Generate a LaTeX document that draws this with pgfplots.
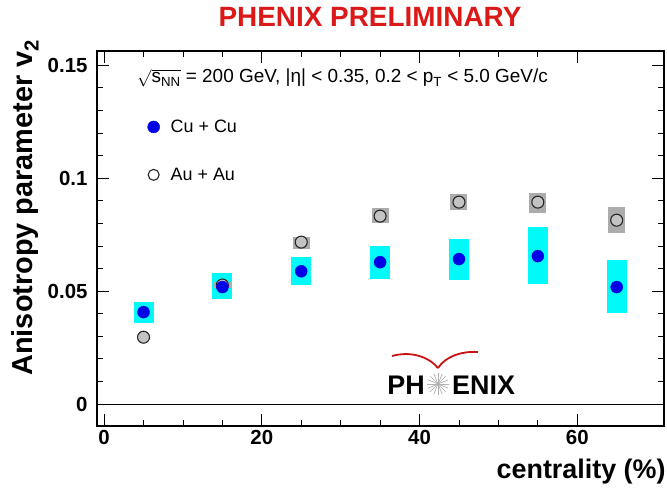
\documentclass[border=0pt]{standalone}
\usepackage{fontspec}
\setmainfont{Liberation Sans}
\usepackage{pgfplots}
\usepackage{pgfplotstable}
\pgfplotsset{compat=1.18}
\definecolor{cuBox}{RGB}{0,250,250}
\definecolor{cuDot}{RGB}{0,0,230}
\definecolor{auBox}{RGB}{172,172,172}
\definecolor{auFill}{RGB}{195,195,195}
\definecolor{phred}{RGB}{220,25,25}
\definecolor{logored}{RGB}{200,20,20}

% Cu+Cu: centrality, v2, syst. up, syst. down
\pgfplotstableread{
x  y      ep     em
5  0.0407 0.0044 0.0049
15 0.0518 0.0062 0.0053
25 0.0588 0.0062 0.0061
35 0.0628 0.0071 0.0075
45 0.0642 0.0088 0.0093
55 0.0655 0.0128 0.0124
65 0.0518 0.0119 0.0115
}\cutable
% Au+Au
\pgfplotstableread{
x  y      ep     em
5  0.0296 0.0 0.0
15 0.0527 0.0015 0.0015
25 0.0717 0.0022 0.0031
35 0.0832 0.0035 0.0031
45 0.0894 0.0035 0.0036
55 0.0894 0.0040 0.0049
65 0.0814 0.0058 0.0057
}\autable

\begin{document}
\begin{tikzpicture}
\useasboundingbox (-97bp,-63bp) rectangle (570bp,426bp);
\begin{axis}[
  at={(0,0)}, anchor=south west,
  scale only axis, width=567bp, height=375bp,
  xmin=-0.9, xmax=71, ymin=-0.0097, ymax=0.1563,
  axis line style={line width=1.1bp},
  tick align=inside, tick pos=both,
  xtick={0,20,40,60}, ytick={0,0.05,0.1,0.15},
  minor x tick num=3, minor y tick num=4,
  major tick length=12bp, minor tick length=6bp,
  every tick/.style={black, line width=0.9bp},
  scaled y ticks=false,
  /pgf/number format/assume math mode=true,
  yticklabel={\pgfmathprintnumber[fixed,precision=2]{\tick}},
  ticklabel style={font=\fontsize{20.5}{22}\selectfont\bfseries},
  yticklabel style={xshift=-6bp},
  xticklabel style={yshift=-1bp},
  xlabel={centrality (\%)},
  xlabel style={at={(axis description cs:1.009,-0.139)}, anchor=base east,
    font=\fontsize{27}{30}\selectfont\bfseries},
  ylabel={Anisotropy parameter v$_{\mathbf{2}}$},
  ylabel style={at={(axis description cs:-0.113,1.04)}, anchor=base east,
    font=\fontsize{29}{32}\selectfont\bfseries},
  title={PHENIX PRELIMINARY},
  title style={at={(axis description cs:0.4815,1.05)}, anchor=base,
    font=\fontsize{28}{30}\selectfont\bfseries, text=phred},
  legend style={draw=none, fill=none, at={(axis description cs:0.089,0.822)},
    anchor=north west, legend cell align=left, row sep=30bp,
    font=\fontsize{18}{20}\selectfont, inner sep=0pt},
  reverse legend,
]
% zero line
\addplot[forget plot, black, line width=0.8bp] coordinates {(-0.9,0) (71,0)};
% systematic boxes
\addplot[forget plot, only marks, mark=none,
  error bars/.cd, y dir=both, y explicit, error mark=none,
  error bar style={draw=cuBox, solid, line width=20bp, line cap=butt}]
  table[x=x, y=y, y error plus=ep, y error minus=em] {\cutable};
\addplot[forget plot, only marks, mark=none,
  error bars/.cd, y dir=both, y explicit, error mark=none,
  error bar style={draw=auBox, solid, line width=17bp, line cap=butt}]
  table[x=x, y=y, y error plus=ep, y error minus=em] {\autable};
% points
\addplot[only marks, mark=*, mark size=6bp,
  mark options={fill=auFill, draw=black!85, line width=1.1bp},
  legend image code/.code={
    \draw[mark=*, mark size=5.5bp, mark options={fill=white, draw=black!85, line width=1.1bp}]
      plot coordinates {(0.3cm,0cm)};}]
  table[x=x, y=y] {\autable};
\addlegendentry{\hspace{9bp}Au + Au}
\addplot[only marks, mark=*, mark size=6bp,
  mark options={fill=cuDot, draw=cuDot}]
  table[x=x, y=y] {\cutable};
\addlegendentry{\hspace{9bp}Cu + Cu}
\end{axis}
% kinematic annotation
\node[anchor=base west, font=\fontsize{19}{21}\selectfont, inner sep=0pt]
  at (40bp,343bp)
  {$\sqrt{\mathrm{s}_{\mathrm{NN}}}$ = 200 GeV, |η| < 0.35, 0.2 < p$_{\mathrm{T}}$ < 5.0 GeV/c};
% PHENIX logo
\node[anchor=base east, font=\fontsize{27}{29}\selectfont\bfseries, inner sep=0pt]
  at (328bp,32bp) {PH};
\node[anchor=base west, font=\fontsize{27}{29}\selectfont\bfseries, inner sep=0pt]
  at (355bp,32bp) {ENIX};
\foreach \a in {0,22.5,...,337.5}
  \draw[black!30, line width=0.7bp] (341bp,42bp) -- ++(\a:11bp);
\draw[logored, line width=1.8bp]
  (295bp,70bp) .. controls (313bp,75bp) and (331bp,70bp) .. (341bp,58bp);
\draw[logored, line width=1.8bp]
  (341bp,58bp) .. controls (349bp,70bp) and (365bp,75bp) .. (381bp,74bp);
\end{tikzpicture}
\end{document}
